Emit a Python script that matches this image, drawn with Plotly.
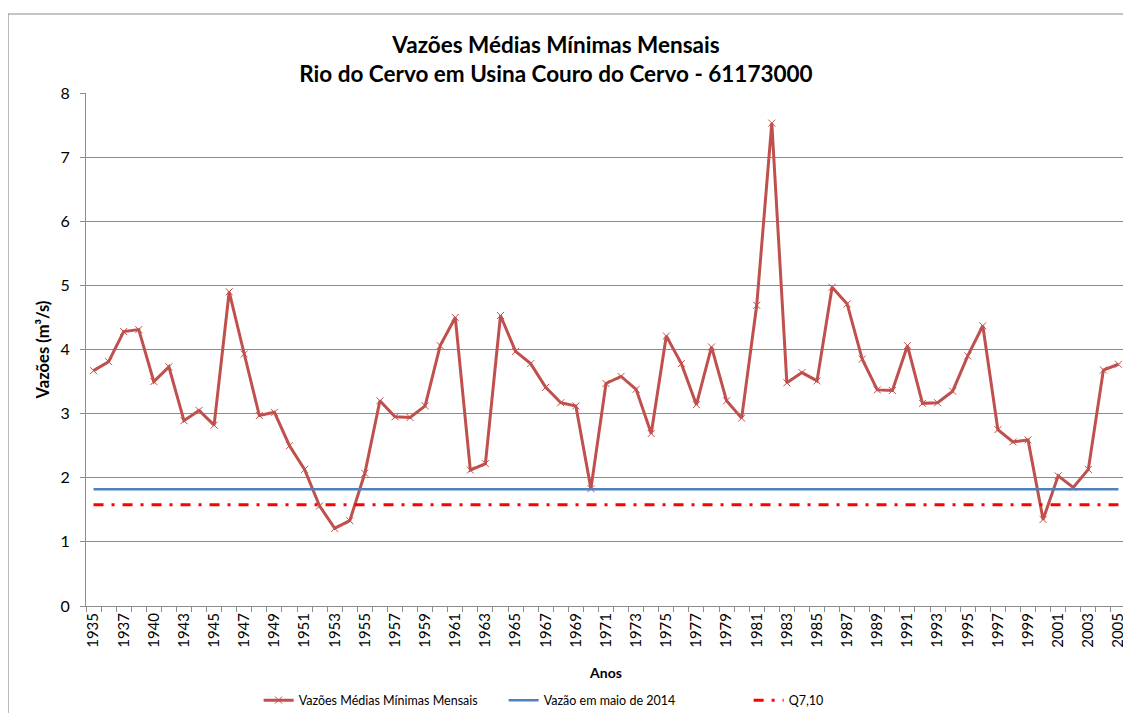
import plotly.graph_objects as go

anos = ['1935', '1936', '1937', '1938', '1940', '1941', '1943', '1944',
        '1945', '1946', '1947', '1948', '1949', '1950', '1951', '1952',
        '1953', '1954', '1955', '1956', '1957', '1958', '1959', '1960',
        '1961', '1962', '1963', '1964', '1965', '1966', '1967', '1968',
        '1969', '1970', '1971', '1972', '1973', '1974', '1975', '1976',
        '1977', '1978', '1979', '1980', '1981', '1982', '1983', '1984',
        '1985', '1986', '1987', '1988', '1989', '1990', '1991', '1992',
        '1993', '1994', '1995', '1996', '1997', '1998', '1999', '2000',
        '2001', '2002', '2003', '2004', '2005']

vazoes_minimas = [3.67, 3.81, 4.28, 4.31, 3.50, 3.73, 2.89, 3.05, 2.82, 4.90,
                  3.93, 2.97, 3.02, 2.50, 2.13, 1.56, 1.21, 1.33, 2.07, 3.20,
                  2.95, 2.94, 3.12, 4.06, 4.50, 2.12, 2.22, 4.53, 3.97, 3.78,
                  3.41, 3.17, 3.12, 1.83, 3.47, 3.58, 3.38, 2.69, 4.21, 3.78,
                  3.14, 4.04, 3.20, 2.93, 4.69, 7.53, 3.48, 3.64, 3.51, 4.97,
                  4.71, 3.85, 3.37, 3.36, 4.06, 3.16, 3.17, 3.35, 3.90, 4.37,
                  2.75, 2.56, 2.59, 1.35, 2.03, 1.85, 2.13, 3.68, 3.77]

vazao_maio_2014 = 1.82
q7_10 = 1.58

# labels shown on every other category, like the original
rotulos = [a if i % 2 == 0 else '' for i, a in enumerate(anos)]

FONT = 'Lato'
GRID = '#8c8c8c'

fig = go.Figure()

fig.add_trace(go.Scatter(
    x=anos, y=vazoes_minimas, name='Vazões Médias Mínimas Mensais',
    mode='lines+markers',
    line=dict(color='#C0504D', width=3),
    marker=dict(symbol='x-thin', size=7, color='#C0504D',
                line=dict(color='#C0504D', width=1))
))

fig.add_trace(go.Scatter(
    x=anos, y=[vazao_maio_2014] * len(anos), name='Vazão em maio de 2014',
    mode='lines', line=dict(color='#4F81BD', width=2.5)
))

fig.add_trace(go.Scatter(
    x=anos, y=[q7_10] * len(anos), name='Q7,10',
    mode='lines', line=dict(color='#FF0000', width=3, dash='10px,8px,3px,8px')
))

# the page body has an 8px margin, so the figure is placed 8px in
fig.update_layout(
    width=1131, height=713,
    paper_bgcolor='white', plot_bgcolor='white',
    font=dict(family=FONT, size=14, color='black'),
    margin=dict(l=78, r=13, t=85, b=115, autoexpand=False),
    title=dict(
        text='<b>Vazões Médias Mínimas Mensais<br>Rio do Cervo em Usina Couro do Cervo - 61173000</b>',
        x=0.4845, xref='container', xanchor='center',
        y=0.937, yanchor='top',
        font=dict(family=FONT, size=22.5, color='black')
    ),
    xaxis=dict(
        type='category', range=[-0.5, len(anos) - 0.5],
        tickmode='array', tickvals=anos, ticktext=rotulos,
        tickangle=-90, tickson='boundaries',
        ticks='outside', ticklen=5, tickcolor=GRID,
        showline=True, linecolor=GRID, linewidth=1,
        showgrid=False, automargin=False,
        title=dict(text='<b>Anos</b>', font=dict(size=14), standoff=21),
        tickfont=dict(size=15)
    ),
    yaxis=dict(
        range=[0, 8], dtick=1,
        ticks='outside', ticklen=5, tickcolor=GRID,
        showline=True, linecolor=GRID, linewidth=1,
        showgrid=True, gridcolor=GRID, gridwidth=1,
        zeroline=False, automargin=False,
        ticklabelstandoff=7,
        title=dict(text='<b>Vazões (m³/s)</b>', font=dict(size=16.5), standoff=6),
        tickfont=dict(size=16)
    ),
    legend=dict(
        orientation='h', x=0.166, xanchor='left',
        y=-0.155, yanchor='top',
        font=dict(size=12.5),
        entrywidth=200, entrywidthmode='pixels',
        itemwidth=30
    ),
    showlegend=True
)

# outer chart frame
fig.add_shape(type='rect', xref='paper', yref='paper',
              x0=-0.075, x1=1.05, y0=-0.3, y1=1.154,
              line=dict(color='#8c8c8c', width=1.2), fillcolor='rgba(0,0,0,0)',
              layer='below')

fig.write_html('out.html')
